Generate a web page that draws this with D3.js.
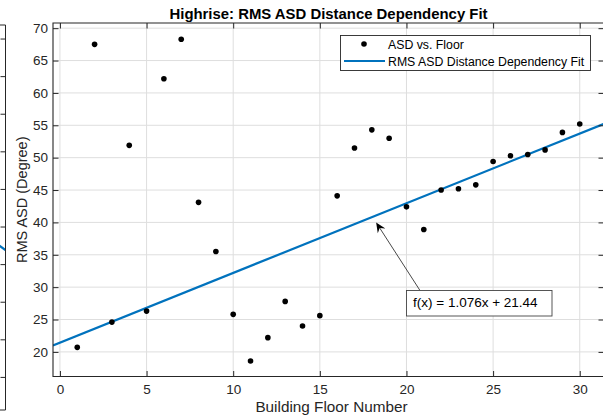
<!DOCTYPE html>
<html>
<head>
<meta charset="utf-8">
<script src="https://cdn.jsdelivr.net/npm/d3@7"></script>
<style>
  html, body { margin: 0; padding: 0; background: #fff; }
  svg { display: block; font-family: "Liberation Sans", Arial, Helvetica, sans-serif; }
</style>
</head>
<body>
<svg id="chart" width="603" height="419"></svg>
<script>
// Measured RMS ASD per building floor
const floors = [1, 2, 3, 4, 5, 6, 7, 8, 9, 10, 11, 12, 13, 14, 15,
                16, 17, 18, 19, 20, 21, 22, 23, 24, 25, 26, 27, 28, 29, 30];
const asd = [20.7, 67.5, 24.6, 51.9, 26.3, 62.2, 68.3, 43.1, 35.5, 25.8, 18.6, 22.2, 27.8, 24.0, 25.6,
             44.1, 51.5, 54.3, 53.0, 42.4, 38.9, 45.0, 45.2, 45.8, 49.4, 50.3, 50.5, 51.2, 53.9, 55.2];

// Linear fit f(x) = slope * x + intercept
const fitSlope = 1.076;
const fitIntercept = 21.44;

const xTicks = [0, 5, 10, 15, 20, 25, 30];
const yTicks = [20, 25, 30, 35, 40, 45, 50, 55, 60, 65, 70];
const xDomain = [-0.4, 31.4];
const yDomain = [16.2, 70.8];

// Adjacent panel (only its right edge is in view)
const sideTicks = [0, 5, 10, 15, 20, 25, 30, 35, 40, 45];
const sideYDomain = [-4.4, 46.8];
const sideXDomain = [-0.4, 31.4];
const sideFitSlope = -1.66;
const sideFitIntercept = 69.0;

const titleText = "Highrise: RMS ASD Distance Dependency Fit";
const xLabel = "Building Floor Number";
const yLabel = "RMS ASD (Degree)";
const legendLabels = ["ASD vs. Floor", "RMS ASD Distance Dependency Fit"];

const axisColor = "#262626";
const gridColor = "#dedede";
const fitColor = "#0072BD";

const svg = d3.select("#chart");
const L = 53, R = 604, T = 23, B = 376.5;
const tk = 5.5;

const x = d3.scaleLinear().domain(xDomain).range([L, R]);
const y = d3.scaleLinear().domain(yDomain).range([B, T]);

svg.append("defs").append("clipPath").attr("id", "plotClip")
  .append("rect").attr("x", L).attr("y", T).attr("width", R - L).attr("height", B - T);
svg.select("defs").append("clipPath").attr("id", "sideClip")
  .append("rect").attr("x", 0).attr("y", 0).attr("width", 5.5).attr("height", 419);

// ---- adjacent panel edge ----
const sideY = d3.scaleLinear().domain(sideYDomain).range([410, 25]);
const sideX = d3.scaleLinear().domain(sideXDomain).range([5.5 - (R - L), 5.5]);
const side = svg.append("g");
side.append("path")
  .attr("clip-path", "url(#sideClip)")
  .attr("fill", "none").attr("stroke", fitColor).attr("stroke-width", 2.2)
  .attr("d", d3.line().x(d => sideX(d)).y(d => sideY(sideFitSlope * d + sideFitIntercept))(sideXDomain));
side.append("g").attr("transform", "translate(5.5,0)")
  .call(d3.axisLeft(sideY).tickValues(sideTicks).tickSize(5).tickFormat(""))
  .call(g => g.select(".domain").remove())
  .selectAll("line").attr("stroke", axisColor);
side.append("path")
  .attr("fill", "none").attr("stroke", axisColor).attr("stroke-width", 1)
  .attr("d", `M0,${sideY.range()[1]}H5.5V${sideY.range()[0]}H0`);

// ---- grid ----
const grid = svg.append("g");
grid.selectAll("line.gx").data(xTicks).join("line")
  .attr("x1", d => x(d)).attr("x2", d => x(d)).attr("y1", T).attr("y2", B)
  .attr("stroke", gridColor).attr("stroke-width", 1);
grid.selectAll("line.gy").data(yTicks).join("line")
  .attr("x1", L).attr("x2", R).attr("y1", d => y(d)).attr("y2", d => y(d))
  .attr("stroke", gridColor).attr("stroke-width", 1);

// ---- fit line ----
svg.append("path")
  .attr("clip-path", "url(#plotClip)")
  .attr("fill", "none").attr("stroke", fitColor).attr("stroke-width", 2.2)
  .attr("d", d3.line().x(d => x(d)).y(d => y(fitSlope * d + fitIntercept))(xDomain));

// ---- data points ----
svg.append("g").selectAll("circle").data(floors).join("circle")
  .attr("cx", d => x(d)).attr("cy", (d, i) => y(asd[i])).attr("r", 2.8)
  .attr("fill", "#000");

// ---- axes ----
const styleAxis = g => {
  g.select(".domain").remove();
  g.selectAll(".tick line").attr("stroke", axisColor);
  g.selectAll(".tick text").attr("fill", axisColor).style("font-size", "13.5px")
    .style("font-family", "'Liberation Sans', Arial, sans-serif");
};
svg.append("g").attr("transform", `translate(0,${B})`)
  .call(d3.axisBottom(x).tickValues(xTicks).tickSize(-tk).tickPadding(8).tickFormat(d3.format("d")))
  .call(styleAxis);
svg.append("g").attr("transform", `translate(0,${T})`)
  .call(d3.axisTop(x).tickValues(xTicks).tickSize(-tk).tickFormat(""))
  .call(styleAxis);
svg.append("g").attr("transform", `translate(${L},0)`)
  .call(d3.axisLeft(y).tickValues(yTicks).tickSize(-tk).tickPadding(5).tickFormat(d3.format("d")))
  .call(styleAxis);
svg.append("g").attr("transform", `translate(${R},0)`)
  .call(d3.axisRight(y).tickValues(yTicks).tickSize(-tk).tickFormat(""))
  .call(styleAxis);

// axes box (right edge sits just outside the view)
svg.append("path")
  .attr("fill", "none").attr("stroke", axisColor).attr("stroke-width", 1.1)
  .attr("d", `M${R},${T}H${L}V${B}H${R}`);

// ---- title and labels ----
svg.append("text")
  .attr("x", (L + R) / 2).attr("y", 19).attr("text-anchor", "middle")
  .style("font-size", "14.9px").style("font-weight", "bold").attr("fill", "#000")
  .text(titleText);
svg.append("text")
  .attr("x", (L + R) / 2 + 3).attr("y", 412).attr("text-anchor", "middle")
  .style("font-size", "15.3px").attr("fill", axisColor)
  .text(xLabel);
svg.append("text")
  .attr("transform", `translate(27,${(T + B) / 2}) rotate(-90)`)
  .attr("text-anchor", "middle")
  .style("font-size", "14.5px").attr("fill", axisColor)
  .text(yLabel);

// ---- legend ----
const lg = svg.append("g").attr("transform", "translate(340.5,35.5)");
lg.append("rect").attr("width", 250).attr("height", 35)
  .attr("fill", "#fff").attr("stroke", axisColor).attr("stroke-width", 0.9);
lg.append("circle").attr("cx", 23.5).attr("cy", 8.5).attr("r", 2.8).attr("fill", "#000");
lg.append("line").attr("x1", 3.5).attr("x2", 44.5).attr("y1", 25.5).attr("y2", 25.5)
  .attr("stroke", fitColor).attr("stroke-width", 2.2);
lg.selectAll("text").data(legendLabels).join("text")
  .attr("x", 47.5).attr("y", (d, i) => 13 + i * 17)
  .style("font-size", "12.3px").attr("fill", "#000")
  .text(d => d);

// ---- equation annotation with arrow ----
const eqText = `f(x) = ${fitSlope}x + ${fitIntercept}`;
const arrowTip = [x(18.25), y(fitSlope * 18.25 + fitIntercept) + 7];
const boxX = 406.5, boxY = 290.5, boxW = 145.5, boxH = 25.5;
const arrowTail = [420, boxY];

const dx = arrowTip[0] - arrowTail[0], dy = arrowTip[1] - arrowTail[1];
const len = Math.hypot(dx, dy), ux = dx / len, uy = dy / len;
const px = -uy, py = ux;
const hl = 10, hw = 4.5;
const bx = arrowTip[0] - ux * hl, by = arrowTip[1] - uy * hl;
svg.append("line")
  .attr("x1", arrowTail[0]).attr("y1", arrowTail[1])
  .attr("x2", arrowTip[0] - ux * 6).attr("y2", arrowTip[1] - uy * 6)
  .attr("stroke", "#333").attr("stroke-width", 0.9);
svg.append("path")
  .attr("fill", "#000")
  .attr("d", `M${arrowTip[0]},${arrowTip[1]}` +
             `L${bx + px * hw},${by + py * hw}` +
             `L${arrowTip[0] - ux * hl * 0.65},${arrowTip[1] - uy * hl * 0.65}` +
             `L${bx - px * hw},${by - py * hw}Z`);

svg.append("rect")
  .attr("x", boxX).attr("y", boxY).attr("width", boxW).attr("height", boxH)
  .attr("fill", "#fff").attr("stroke", "#444").attr("stroke-width", 0.9);
svg.append("text")
  .attr("x", 413).attr("y", 307)
  .style("font-size", "13.5px").attr("fill", "#000")
  .text(eqText);
</script>
</body>
</html>
